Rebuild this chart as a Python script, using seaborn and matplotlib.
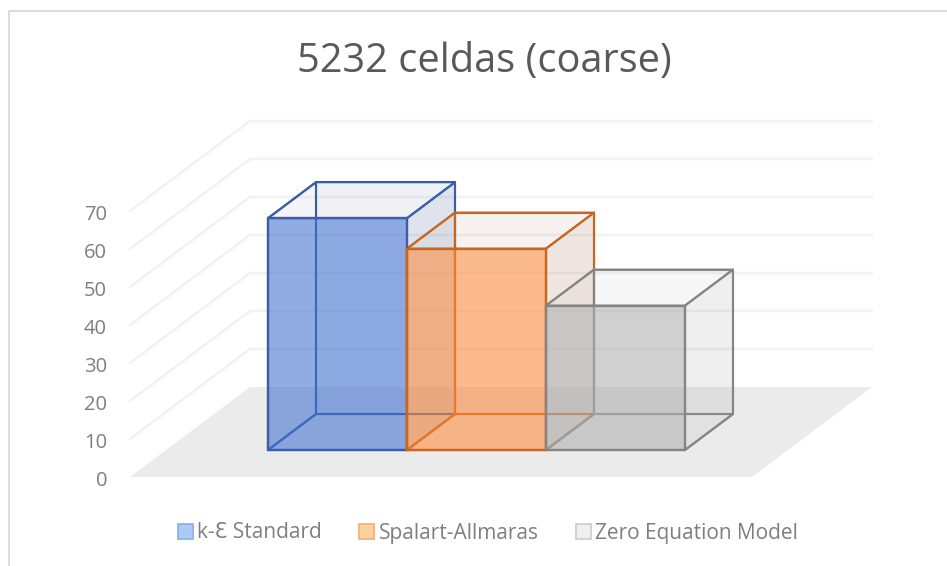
import matplotlib
matplotlib.use('Agg')
import matplotlib.pyplot as plt
import pandas as pd
import seaborn as sns
from matplotlib.lines import Line2D
from matplotlib.patches import Patch, Polygon
from matplotlib.colors import to_rgba

models = ['k-Ɛ Standard', 'Spalart-Allmaras', 'Zero Equation Model']
values = [61, 53, 38]
tick_values = [0, 10, 20, 30, 40, 50, 60, 70]

face_colors = ['#3F70D0', '#FF8A3C', '#B0B0B0']
edge_colors = ['#3A5FA8', '#C9651F', '#858585']
side_colors = ['#3F5A90', '#A0704F', '#A0A0A0']
legend_faces = ['#AACBFA', '#FFD29B', '#EFEFEF']
legend_edges = ['#8FB2E6', '#F5B27C', '#CFCFCF']
text_color = '#7F7F7F'

W, H = 947, 566
sns.set_theme(style='white')
plt.rcParams['font.family'] = ['Open Sans', 'DejaVu Sans']

fig = plt.figure(figsize=(W / 100, H / 100), dpi=100, facecolor='white')
ax = fig.add_axes([0, 0, 1, 1])

df = pd.DataFrame({'model': models, 'value': values})
sns.barplot(df, x='model', y='value', hue='model', palette=face_colors,
            width=1, dodge=False, legend=False, ax=ax)
bars = list(ax.patches)

# one category = 139 px, ten units = 38 px, bar base sits at pixel (268, 450)
px_x = 139
px_y = 3.8
ax.set_xlim(-337.5 / px_x, (W - 337.5) / px_x)
ax.set_ylim((450 - H) / px_y, 450 / px_y)
ax.axis('off')

depth_x = 48 / px_x
depth_y = 36 / px_y


def project(x, v, d):
    return x + d * depth_x, v + d * depth_y


# floor and walls, depth runs from -0.75 (front) to 1.75 (back)
floor_l = (166 - 337.5) / px_x
floor_r = (788 - 337.5) / px_x
d_front, d_back = -0.75, 1.75
ax.add_patch(Polygon([project(floor_l, 0, d_front), project(floor_r, 0, d_front),
                      project(floor_r, 0, d_back), project(floor_l, 0, d_back)],
                     closed=True, fc='#EBEBEB', ec='none', zorder=1))
for t in tick_values[1:]:
    pts = [project(floor_l, t, d_front), project(floor_l, t, d_back), project(floor_r, t, d_back)]
    ax.plot(*zip(*pts), color='#F2F2F2', lw=1.8, zorder=1, solid_joinstyle='miter')

# side faces of each box, front faces are the seaborn bars
for i, (v, sc, ec) in enumerate(zip(values, side_colors, edge_colors)):
    l, r = i - 0.5, i + 0.5
    faces = {
        'bottom': ([(l, 0, 0), (r, 0, 0), (r, 0, 1), (l, 0, 1)], 0.01),
        'back': ([(l, 0, 1), (r, 0, 1), (r, v, 1), (l, v, 1)], 0.05),
        'left': ([(l, 0, 0), (l, 0, 1), (l, v, 1), (l, v, 0)], 0.02),
        'top': ([(l, v, 0), (r, v, 0), (r, v, 1), (l, v, 1)], 0.03),
        'right': ([(r, 0, 0), (r, 0, 1), (r, v, 1), (r, v, 0)], 0.12),
    }
    for pts, alpha in faces.values():
        ax.add_patch(Polygon([project(*p) for p in pts], closed=True,
                             fc=to_rgba(sc, alpha), ec=ec, lw=1.5, zorder=2,
                             joinstyle='round'))

for bar, fc, ec in zip(bars, face_colors, edge_colors):
    bar.set_facecolor(to_rgba(fc, 0.57))
    bar.set_edgecolor(ec)
    bar.set_linewidth(1.7)
    bar.set_zorder(3)

# value axis lies on the front edge of the left wall
ax_ticks = fig.add_axes([130 / W, (H - 478) / H, 0.001, 266 / H])
ax_ticks.patch.set_alpha(0)
ax_ticks.set_ylim(0, 70)
ax_ticks.set_yticks(tick_values)
ax_ticks.set_xticks([])
ax_ticks.tick_params(axis='y', length=0, pad=16.5, labelsize=14.5, labelcolor=text_color)
for s in ax_ticks.spines.values():
    s.set_visible(False)

fig.text(484 / W, 1 - 62 / H, '5232 celdas (coarse)', ha='center', va='center',
         fontsize=28.6, color='#595959')

handles = [Patch(facecolor=f, edgecolor=e, lw=1.3, label=m)
           for f, e, m in zip(legend_faces, legend_edges, models)]
fig.legend(handles=handles, loc='center', bbox_to_anchor=(488 / W, 1 - 533 / H), ncol=3,
           frameon=False, fontsize=15, labelcolor=text_color, handlelength=0.72,
           handleheight=0.75, handletextpad=0.2, columnspacing=1.8)

# chart area border, cut off by the crop on the right and bottom
fig.add_artist(Line2D([9 / W, 9 / W, 1], [0, 1 - 11 / H, 1 - 11 / H], color='#D9D9D9', lw=1.3))

fig.savefig('out.png', dpi=100)
